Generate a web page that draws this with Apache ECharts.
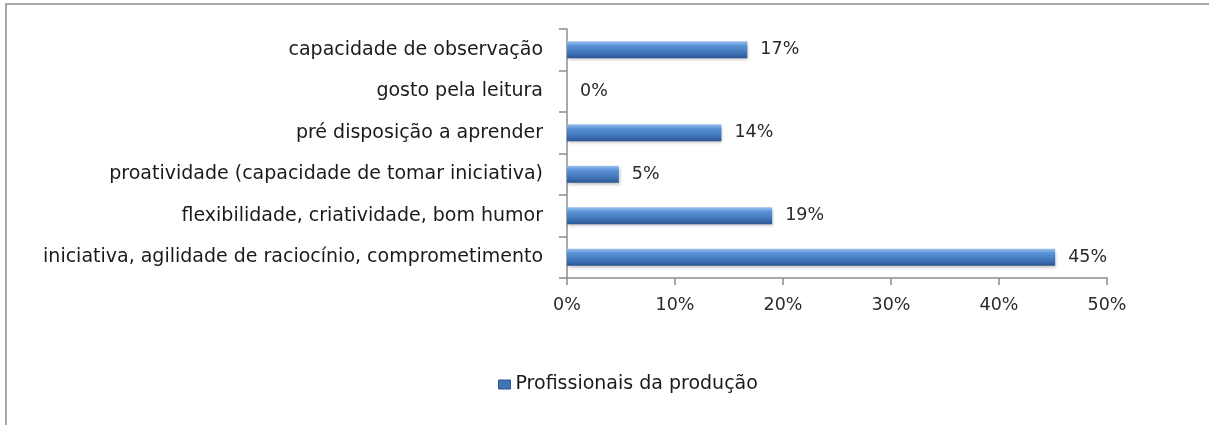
<!DOCTYPE html>
<html><head><meta charset="utf-8">
<script src="https://cdn.jsdelivr.net/npm/echarts@6/dist/echarts.min.js"></script>
<style>html,body{margin:0;padding:0;background:#fff}#c{width:1209px;height:425px}</style>
</head><body><div id="c"></div>
<script>
const categories = [
  "iniciativa, agilidade de raciocínio, comprometimento",
  "flexibilidade, criatividade, bom humor",
  "proatividade (capacidade de tomar iniciativa)",
  "pré disposição a aprender",
  "gosto pela leitura",
  "capacidade de observação"
];
const values = [45.2, 19.0, 4.8, 14.3, 0, 16.7];
const seriesName = "Profissionais da produção";
const xTicks = [0, 10, 20, 30, 40, 50];

const chart = echarts.init(document.getElementById('c'), null, {renderer: 'canvas'});
const font = "'DejaVu Sans', Verdana, sans-serif";
const barColor = new echarts.graphic.LinearGradient(0, 0, 0, 1, [
  {offset: 0, color: '#9cc3f0'},
  {offset: 0.25, color: '#5b93d6'},
  {offset: 0.7, color: '#3f74b8'},
  {offset: 1, color: '#2b5590'}
]);
chart.setOption({
  animation: false,
  graphic: [{
    type: 'rect', shape: {x: 6, y: 4, width: 1400, height: 600},
    style: {fill: 'none', stroke: '#a8a8a8', lineWidth: 2}
  }],
  grid: {left: 567, right: 102, top: 29, bottom: 147, containLabel: false},
  legend: {
    bottom: 31, left: 498, padding: 0, itemWidth: 12, itemHeight: 9, icon: 'rect', itemGap: 8,
    textStyle: {fontFamily: font, fontSize: 19, color: '#1a1a1a'},
    data: [{name: seriesName, itemStyle: {color: '#3f74b8', borderColor: '#2b5590', borderWidth: 1}}]
  },
  xAxis: {
    type: 'value', min: 0, max: 50, interval: 10,
    axisLine: {show: true, lineStyle: {color: '#8c8c8c', width: 1.5}},
    axisTick: {show: true, length: 7, lineStyle: {color: '#8c8c8c', width: 1.5}},
    splitLine: {show: false},
    axisLabel: {formatter: v => v + '%', fontFamily: font, fontSize: 17.5, color: '#2a2a2a', margin: 18}
  },
  yAxis: {
    type: 'category', data: categories,
    axisLine: {show: true, lineStyle: {color: '#8c8c8c', width: 1.5}},
    axisTick: {show: true, length: 8, lineStyle: {color: '#8c8c8c', width: 1.5}},
    axisLabel: {fontFamily: font, fontSize: 19, color: '#1a1a1a', margin: 24}
  },
  series: [{
    name: seriesName, type: 'bar', data: values, barWidth: 17,
    itemStyle: {color: barColor,
      shadowColor: 'rgba(0,0,0,0.25)', shadowBlur: 3, shadowOffsetX: 1, shadowOffsetY: 2},
    label: {show: true, position: 'right', distance: 13, formatter: p => Math.round(p.value) + '%',
      fontFamily: font, fontSize: 17.5, color: '#2a2a2a'}
  }]
});
</script></body></html>
